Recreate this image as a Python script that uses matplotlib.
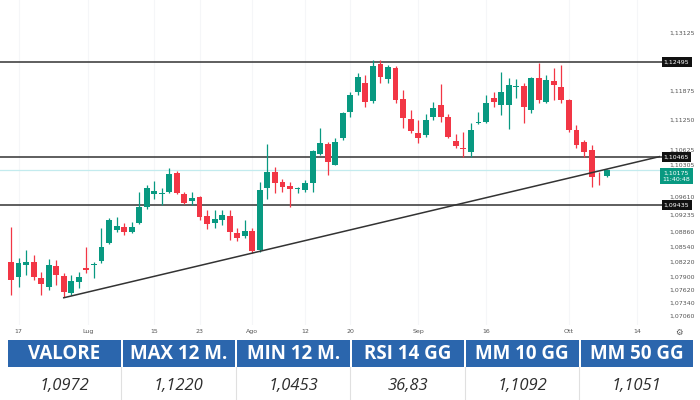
import matplotlib
matplotlib.use("Agg")
import matplotlib.pyplot as plt
from matplotlib.patches import Rectangle
from matplotlib.transforms import blended_transform_factory
import numpy as np

# ---------------- data ----------------
opens = [1.08215, 1.07894, 1.08151, 1.08215, 1.07873, 1.07680, 1.08130, 1.07916, 1.07552, 1.07787,
         1.08087, 1.08151, 1.08237, 1.08622, 1.08900, 1.08964, 1.08857, 1.09050, 1.09392, 1.09670,
         1.09681, 1.09713, 1.10120, 1.09670, 1.09521, 1.09606, 1.09200, 1.09050, 1.09114, 1.09200,
         1.08836, 1.08772, 1.08879, 1.08472, 1.09799, 1.10141, 1.09927, 1.09842, 1.09777, 1.09756,
         1.09906, 1.10526, 1.10740, 1.10291, 1.10869, 1.11425, 1.11853, 1.12046, 1.11661, 1.12452,
         1.12131, 1.12367, 1.11703, 1.11275, 1.10976, 1.10933, 1.11318, 1.11575, 1.11318, 1.10805,
         1.10655, 1.10569, 1.11190, 1.11211, 1.11725, 1.11575, 1.11575, 1.11960, 1.11982, 1.11468,
         1.12153, 1.11639, 1.12089, 1.11960, 1.11682, 1.11040, 1.10783, 1.10612, 1.09991, 1.10056]
highs = [1.08964, 1.08301, 1.08472, 1.08365, 1.08001, 1.08279, 1.08258, 1.07980, 1.07937, 1.08001,
         1.08536, 1.08215, 1.08943, 1.09157, 1.09178, 1.09050, 1.09071, 1.09713, 1.09863, 1.09949,
         1.09799, 1.10227, 1.10163, 1.09713, 1.09713, 1.09628, 1.09328, 1.09328, 1.09328, 1.09328,
         1.08943, 1.09114, 1.08943, 1.09927, 1.10740, 1.10248, 1.09991, 1.09927, 1.09820, 1.09970,
         1.10612, 1.11083, 1.10783, 1.10869, 1.11425, 1.11853, 1.12260, 1.12217, 1.12538, 1.12538,
         1.12431, 1.12410, 1.11896, 1.11468, 1.11254, 1.11382, 1.11639, 1.12024, 1.11382, 1.10954,
         1.10997, 1.11190, 1.11425, 1.11789, 1.11853, 1.12281, 1.12153, 1.12131, 1.12046, 1.12174,
         1.12474, 1.12217, 1.12367, 1.12431, 1.11703, 1.11147, 1.10826, 1.10719, 1.10141, 1.10195]
lows = [1.07509, 1.07680, 1.07937, 1.07830, 1.07509, 1.07616, 1.07723, 1.07466, 1.07509, 1.07659,
        1.07980, 1.07873, 1.08194, 1.08600, 1.08857, 1.08793, 1.08836, 1.09028, 1.09349, 1.09563,
        1.09435, 1.09692, 1.09670, 1.09456, 1.09435, 1.09114, 1.08921, 1.08943, 1.09007, 1.08686,
        1.08665, 1.08729, 1.08408, 1.08429, 1.09563, 1.09692, 1.09713, 1.09392, 1.09692, 1.09713,
        1.09713, 1.10505, 1.10077, 1.10291, 1.10826, 1.11318, 1.11789, 1.11532, 1.11618, 1.12046,
        1.12046, 1.11618, 1.11083, 1.10976, 1.10762, 1.10890, 1.11254, 1.11211, 1.10869, 1.10655,
        1.10462, 1.10462, 1.11179, 1.11190, 1.11532, 1.11361, 1.11061, 1.11725, 1.11190, 1.11404,
        1.11618, 1.11618, 1.11682, 1.11618, 1.10997, 1.10655, 1.10462, 1.09820, 1.09863, 1.10034]
closes = [1.07830, 1.08194, 1.08215, 1.07894, 1.07744, 1.08151, 1.07937, 1.07573, 1.07809, 1.07894,
          1.08044, 1.08172, 1.08536, 1.09114, 1.08986, 1.08857, 1.08964, 1.09392, 1.09799, 1.09735,
          1.09692, 1.10098, 1.09692, 1.09478, 1.09585, 1.09178, 1.09028, 1.09135, 1.09221, 1.08857,
          1.08729, 1.08879, 1.08451, 1.09756, 1.10141, 1.09906, 1.09820, 1.09777, 1.09799, 1.09906,
          1.10591, 1.10762, 1.10355, 1.10783, 1.11404, 1.11789, 1.12174, 1.11639, 1.12410, 1.12174,
          1.12388, 1.11682, 1.11297, 1.11019, 1.10869, 1.11254, 1.11511, 1.11318, 1.10890, 1.10698,
          1.10644, 1.11040, 1.11211, 1.11618, 1.11639, 1.11853, 1.12003, 1.11982, 1.11532, 1.12153,
          1.11682, 1.12110, 1.12003, 1.11682, 1.11040, 1.10719, 1.10569, 1.10034, 1.09981, 1.10175]

date_pos = [1, 10.2, 19, 25, 32, 39, 45, 54, 63, 74, 83]
date_labels = ["17", "Lug", "15", "23", "Ago", "12", "20", "Sep", "16", "Ott", "14"]

price_ticks = [1.13125, 1.11875, 1.11250, 1.10625, 1.10305, 1.09610, 1.09235,
               1.08860, 1.08540, 1.08220, 1.07900, 1.07620, 1.07340, 1.07060]

levels = [1.12495, 1.10465, 1.09435]
last_price = 1.10175
last_time = "11:40:48"

trend_x = [7, 86]
trend_y = [1.07450, 1.10470]

table_headers = ["VALORE", "MAX 12 M.", "MIN 12 M.", "RSI 14 GG", "MM 10 GG", "MM 50 GG"]
table_values = ["1,0972", "1,1220", "1,0453", "36,83", "1,1092", "1,1051"]

# ---------------- style ----------------
GREEN = "#089981"
RED = "#f23645"
HEADER = "#2b66ad"

W, H = 700, 400
fig = plt.figure(figsize=(7, 4), dpi=100)
fig.patch.set_facecolor("white")

# table axes in pixel coordinates
axt = fig.add_axes([0, 0, 1, 1], zorder=0)
axt.set_xlim(0, W)
axt.set_ylim(H, 0)
axt.axis("off")

cell_x = [8, 122.5, 237, 351.5, 466, 580.5]
cell_w = 112.5
for cx, hd, val in zip(cell_x, table_headers, table_values):
    axt.add_patch(Rectangle((cx, 340), cell_w, 27, facecolor=HEADER, edgecolor="none"))
    axt.text(cx + cell_w / 2, 354, hd, ha="center", va="center", color="white",
             fontsize=13.5, fontweight="bold", family="Open Sans")
    axt.text(cx + cell_w / 2, 386, val, ha="center", va="center", color="#2e2e2e",
             fontsize=12, style="italic", family="Open Sans")
for cx in cell_x[1:]:
    axt.plot([cx - 1.2, cx - 1.2], [367, 400], color="#e0e0e0", lw=0.8)

# main chart axes
top_px, bot_px, right_px = 0, 325, 662
ax = fig.add_axes([0, 1 - bot_px / H, right_px / W, (bot_px - top_px) / H], zorder=1)
ax.set_facecolor("none")
ax.set_xlim(-1.46, 86.34)
ax.set_ylim(1.06867, 1.13822)

x = np.arange(len(opens))
o = np.array(opens); c = np.array(closes); hi = np.array(highs); lo = np.array(lows)
up = c >= o
cols = np.where(up, GREEN, RED)

# grid (very faint)
for p in date_pos:
    ax.axvline(p, color="#f5f6f8", lw=0.8, zorder=0)

ax.vlines(x, lo, hi, colors=cols, lw=0.9, zorder=3)
body_bottom = np.minimum(o, c)
body_h = np.maximum(np.abs(c - o), 0.00006)
ax.bar(x, body_h, bottom=body_bottom, width=0.78, color=cols, edgecolor="none", zorder=4)

for lv in levels:
    ax.axhline(lv, color="#333333", lw=1.1, zorder=2)
ax.axhline(last_price, color="#c3ebee", lw=0.9, zorder=1)
ax.plot(trend_x, trend_y, color="#333333", lw=1.1, zorder=5)

for s in ax.spines.values():
    s.set_visible(False)

ax.set_xticks(date_pos)
ax.set_xticklabels(date_labels)
ax.tick_params(axis="x", length=0, pad=3, labelsize=4.5, labelcolor="#555555")
ax.yaxis.tick_right()
ax.set_yticks(price_ticks)
ax.set_yticklabels([f"{p:.5f}".replace(".", ",") for p in price_ticks])
ax.tick_params(axis="y", length=0, pad=5, labelsize=4.5, labelcolor="#555555")

tr = blended_transform_factory(ax.transAxes, ax.transData)
xc = 676.5 / right_px
for lv in levels:
    ax.text(xc, lv, f"{lv:.5f}".replace(".", ","), transform=tr, ha="center", va="center",
            fontsize=4.5, color="white", zorder=10, clip_on=False,
            bbox=dict(boxstyle="square,pad=0.35", facecolor="#111111", edgecolor="none"))
ax.text(xc, last_price, f"{last_price:.5f}".replace(".", ",") + "\n" + last_time, transform=tr,
        ha="center", va="top", fontsize=4.5, color="white", zorder=10, clip_on=False,
        linespacing=1.3,
        bbox=dict(boxstyle="square,pad=0.35", facecolor=GREEN, edgecolor="none"))

axt.text(679, 332, "\u2699", ha="center", va="center", fontsize=6, color="#555555")

fig.savefig("out.png", dpi=100, facecolor="white")
